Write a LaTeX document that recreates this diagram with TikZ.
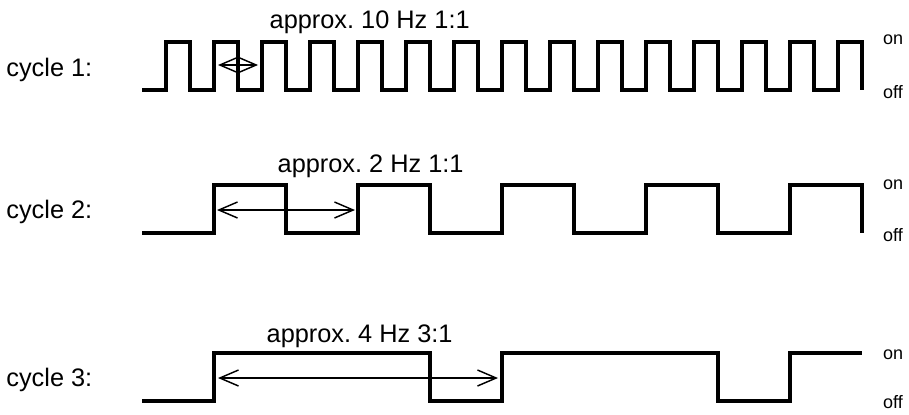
\documentclass[tikz,border=0pt]{standalone}
\usepackage{fontspec}
\setmainfont{Liberation Sans}
\usetikzlibrary{arrows.meta}

\begin{document}
\begin{tikzpicture}[x=0.75pt,y=-0.75pt,
    wave/.style={line width=2.3pt},
    span/.style={line width=1.1pt,{Straight Barb[length=14pt,width=12pt]}-{Straight Barb[length=14pt,width=12pt]}},
    freq/.style={anchor=base west,font=\fontsize{19}{22}\selectfont},
    cyc/.style={anchor=base east,font=\fontsize{19}{22}\selectfont},
    state/.style={font=\fontsize{13.5}{16}\selectfont}]
  \useasboundingbox (0,0) rectangle (909,414);

  % Draw cycle 1: 15 pulses, period 48
  \def\per{48}
  \draw[wave] (142,90) foreach \k in {0,...,14} {
    -- ({166+\per*\k},90) -- ({166+\per*\k},42)
    -- ({190+\per*\k},42) -- ({190+\per*\k},90)};
  \node[cyc] (c1) at (97,76) {cycle 1:};
  \node[freq] (f1) at (265,28) {approx.\ 10 Hz 1:1};
  \node[state] (on1) at (893,40) {on};
  \node[state] (off1) at (893,92) {off};
  \coordinate (a1l) at (218,65);
  \coordinate (a1r) at (258,65);
  \draw[span] (a1l) -- (a1r);

  % Draw cycle 2: 5 pulses, period 144
  \def\per{144}
  \draw[wave] (142,233) foreach \k in {0,...,4} {
    -- ({214+\per*\k},233) -- ({214+\per*\k},185)
    -- ({286+\per*\k},185) -- ({286+\per*\k},233)};
  \node[cyc] (c2) at (97,218) {cycle 2:};
  \node[freq] (f2) at (273,172) {approx.\ 2 Hz 1:1};
  \node[state] (on2) at (893,185) {on};
  \node[state] (off2) at (893,235) {off};
  \coordinate (a2l) at (217,210);
  \coordinate (a2r) at (355,210);
  \draw[span] (a2l) -- (a2r);

  % Draw cycle 3: on three quarters of the period
  \def\per{288}
  \draw[wave] (142,401) foreach \k in {0,1} {
    -- ({214+\per*\k},401) -- ({214+\per*\k},353)
    -- ({430+\per*\k},353) -- ({430+\per*\k},401)}
    -- (790,401) -- (790,353) -- (862,353);
  \node[cyc] (c3) at (97,386) {cycle 3:};
  \node[freq] (f3) at (262,342) {approx.\ 4 Hz 3:1};
  \node[state] (on3) at (893,355) {on};
  \node[state] (off3) at (893,402) {off};
  \coordinate (a3l) at (218,378);
  \coordinate (a3r) at (498,378);
  \draw[span] (a3l) -- (a3r);
\end{tikzpicture}
\end{document}
